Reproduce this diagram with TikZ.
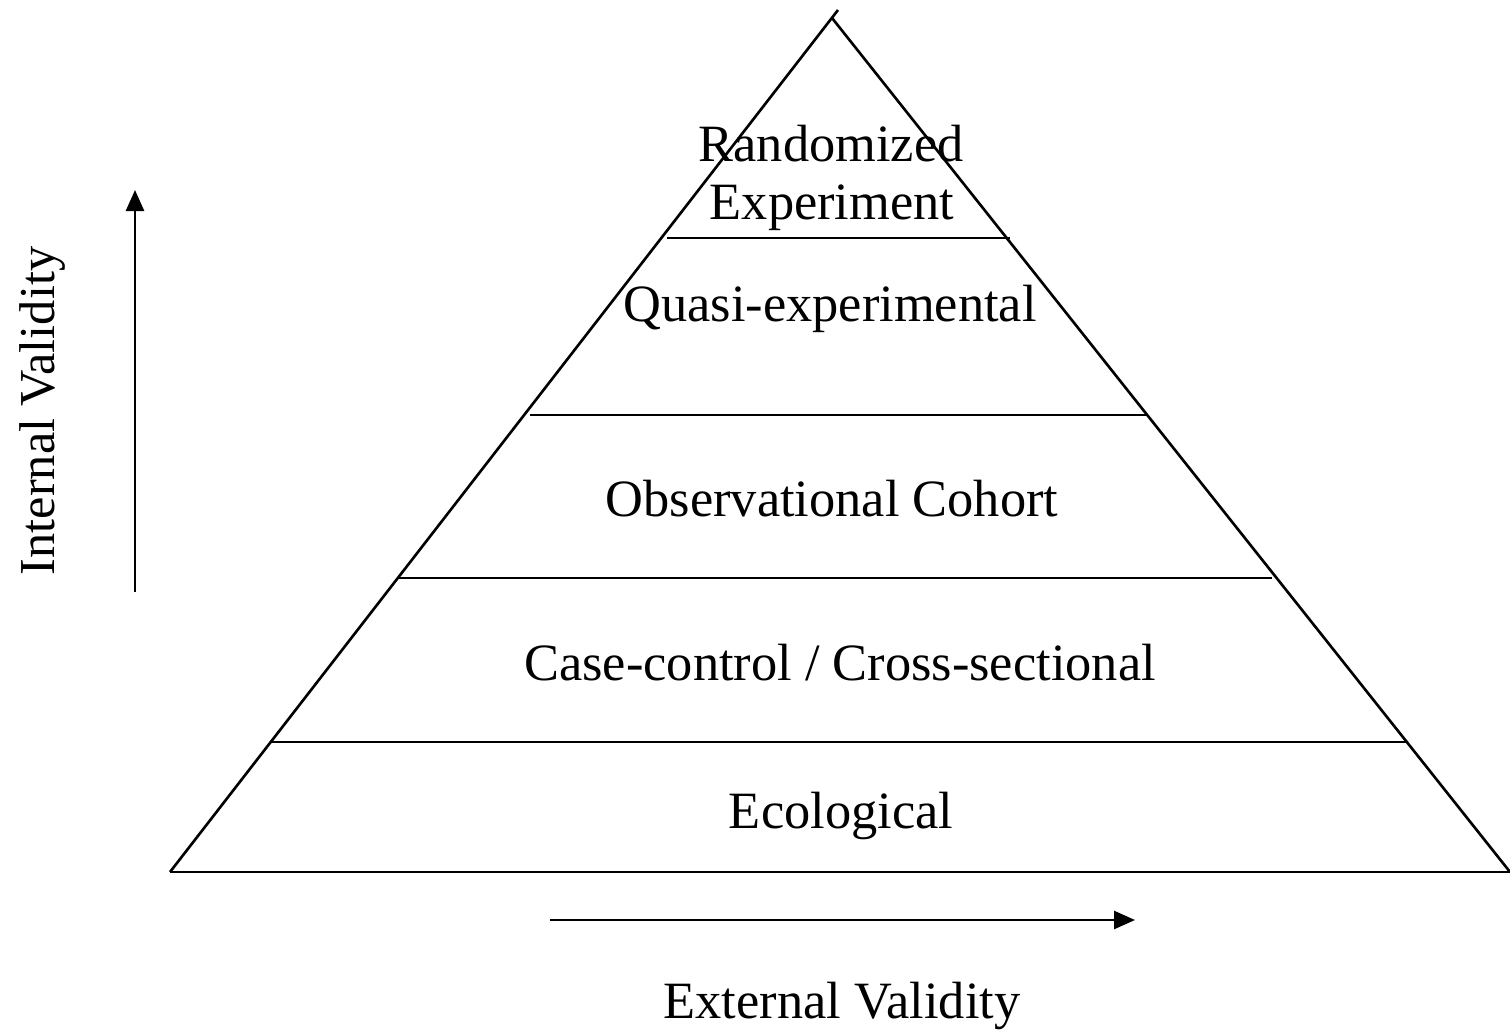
\documentclass[tikz,border=0pt]{standalone}
\usepackage{fontspec}
\setmainfont{Liberation Serif}
\usetikzlibrary{arrows.meta}
\begin{document}
\begin{tikzpicture}[x=0.01cm,y=-0.01cm,
  edge/.style={line width=0.75pt},
  axis/.style={line width=0.75pt,-{Triangle[length=0.21cm,width=0.18cm]}},
  lvl/.style={font=\fontsize{14.9}{17}\selectfont,inner sep=0pt,anchor=base},
  ax/.style={font=\fontsize{14.9}{17}\selectfont,inner sep=0pt},
  axv/.style={font=\fontsize{14.3}{16}\selectfont,inner sep=0pt,rotate=90}]
\useasboundingbox (0,0) rectangle (1510,1031);
% pyramid outline
\coordinate (apex) at (832,18);
\coordinate (bl) at (170,872);
\coordinate (br) at (1510,872);
\draw[edge] (bl) -- (838,10);
\draw[edge] (apex) -- (br);
\draw[edge] (bl) -- (br);
% tier dividers
\draw[edge] (667,238) -- (1010,238);
\draw[edge] (530,415) -- (1148,415);
\draw[edge] (398,578) -- (1272,578);
\draw[edge] (272,742) -- (1408,742);
% tier labels
\node[lvl] (t1a) at (831,162) {Randomized};
\node[lvl] (t1b) at (832,220) {Experiment};
\node[lvl] (t2) at (830,322) {Quasi-experimental};
\node[lvl] (t3) at (832,517) {Observational Cohort};
\node[lvl] (t4) at (840,680) {Case-control / Cross-sectional};
\node[lvl] (t5) at (841,828) {Ecological};
% validity axes
\coordinate (iv0) at (135,592);
\coordinate (iv1) at (135,190);
\draw[axis] (iv0) -- (iv1);
\node[axv] (ivl) at (42,411) {Internal Validity};
\coordinate (ev0) at (550,920);
\coordinate (ev1) at (1135,920);
\draw[axis] (ev0) -- (ev1);
\node[ax] (evl) at (842,1006) {External Validity};
\end{tikzpicture}
\end{document}
